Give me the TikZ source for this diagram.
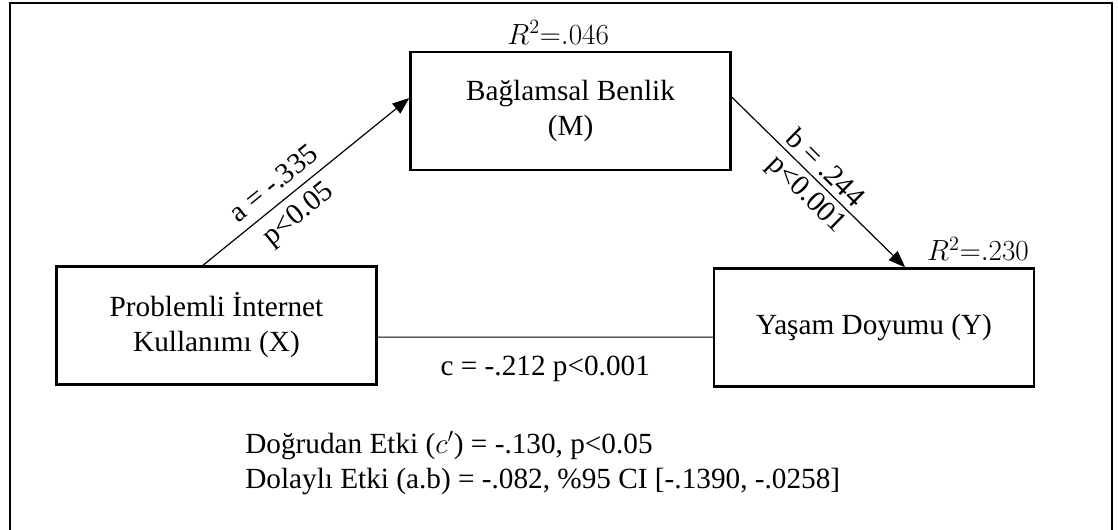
\documentclass[tikz,border=0pt]{standalone}
\usepackage{fontspec}
\setmainfont{Liberation Serif}
\usepackage{tikz}
\usetikzlibrary{arrows.meta}
\newcommand{\fnt}{\fontsize{20.8}{24.9}\selectfont}
\newcommand{\rsq}[1]{$R^2{=}.#1$}

\begin{document}
\begin{tikzpicture}[x=0.025cm,y=-0.025cm,
 box/.style={draw,line width=1.6pt,minimum width=8cm,minimum height=2.95cm,align=center,font=\fnt},
 lbl/.style={font=\fnt,inner sep=0pt},
 link/.style={line width=0.85pt,-{Triangle[length=12pt,width=9pt]}}]
\useasboundingbox (0,0) rectangle (1118,530);
\draw[line width=1.8pt] (10,545) -- (10,3) -- (1112,3) -- (1112,545);

\node[box] (X) at (216.5,325.5) {Problemli İnternet\\Kullanımı (X)};
\node[box] (M) at (570.5,111) {Bağlamsal Benlik\\(M)};
\node[box] (Y) at (874,327.5) {Yaşam Doyumu (Y)};

\draw[link] ([xshift=-0.34cm]X.north) -- node[lbl,sloped,pos=0.4,above=6.4pt]{a = -.335} node[lbl,sloped,pos=0.4,below=5.9pt]{p<0.05} ([yshift=0.325cm]M.west);
\draw[link] ([yshift=0.35cm]M.east) -- node[lbl,sloped,pos=0.48,above=3.6pt]{b = .244} node[lbl,sloped,pos=0.5,below=3.4pt]{p<0.001} ([xshift=0.78cm]Y.north);
\draw[line width=0.8pt] ([yshift=-0.29cm]X.east) -- node[lbl,below=12.8pt]{c = -.212 p<0.001} ([yshift=-0.24cm]Y.west);

\node[lbl,above=4.5pt] (rm) at ([xshift=-0.31cm]M.north) {\rsq{046}};
\node[lbl,above=4.5pt] (ry) at ([xshift=2.6cm]Y.north) {\rsq{230}};

\node[lbl,align=left,anchor=north west] (eff) at (245,431) {Doğrudan Etki (\(c'\)) = -.130, p<0.05\\Dolaylı Etki (a.b) = -.082, \%95 CI [-.1390, -.0258]};
\end{tikzpicture}
\end{document}
